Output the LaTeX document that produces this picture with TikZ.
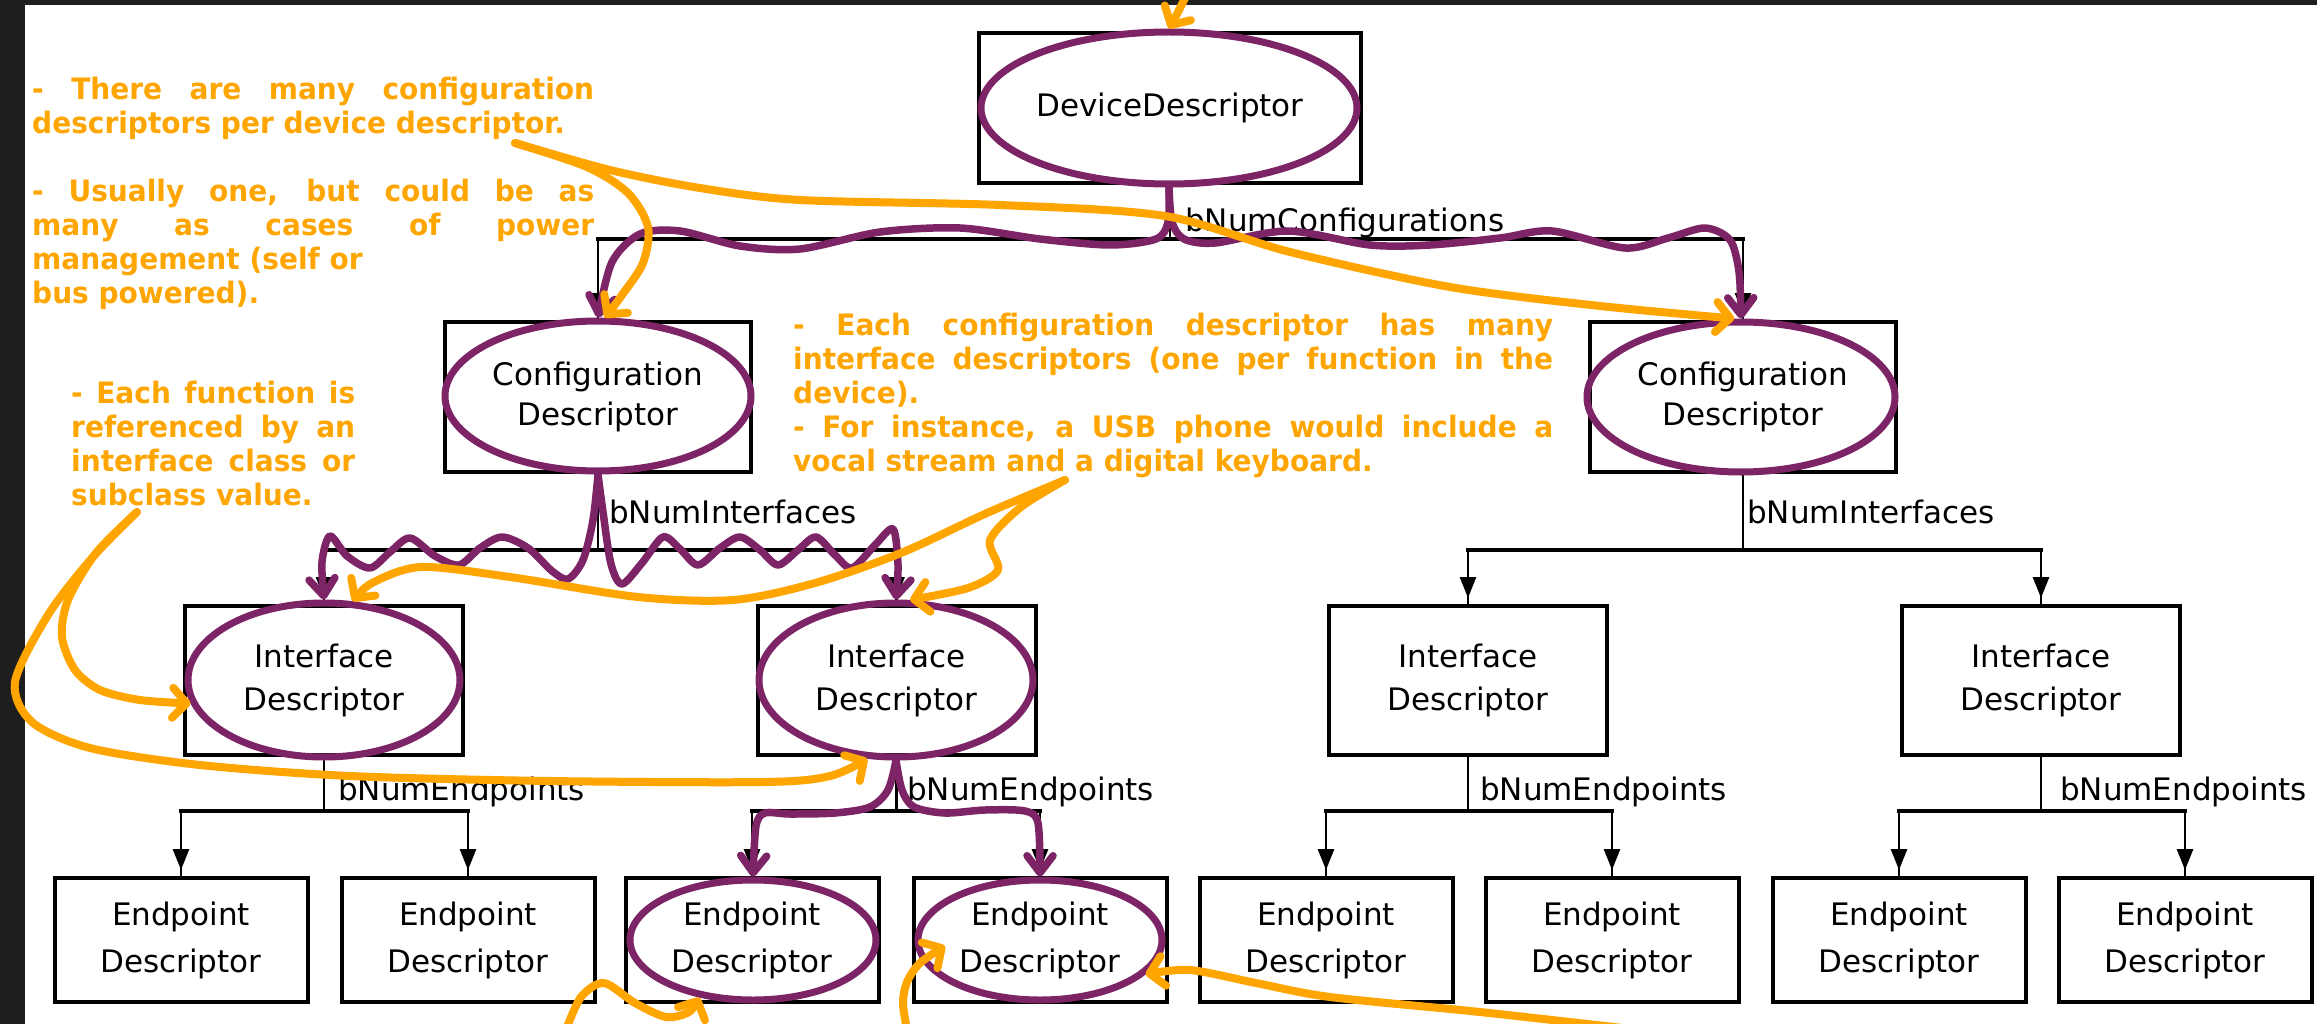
\documentclass[tikz,border=0pt]{standalone}
\usepackage{fontspec}
\usetikzlibrary{shapes.geometric,arrows.meta,decorations.markings}
\newfontfamily\notefont[FakeStretch=0.95]{DejaVu Sans}
\newfontfamily\boxfont{DejaVu Sans}
\definecolor{notecol}{RGB}{255,165,0}
\definecolor{markcol}{RGB}{124,36,102}
\definecolor{framebg}{RGB}{30,30,30}

\begin{document}
\begin{tikzpicture}[x=1pt,y=-1pt,
  box/.style={draw=black, line width=4pt, fill=white, rectangle, inner sep=0pt, align=center},
  devbox/.style={box, minimum width=382pt, minimum height=150pt, font=\boxfont\fontsize{31pt}{40pt}\selectfont},
  cfgbox/.style={box, minimum width=306pt, minimum height=150pt, font=\boxfont\fontsize{31pt}{40pt}\selectfont},
  ifbox/.style={box, minimum width=278pt, minimum height=149pt, font=\boxfont\fontsize{31pt}{43pt}\selectfont},
  epbox/.style={box, minimum width=253pt, minimum height=124pt, font=\boxfont\fontsize{31pt}{47pt}\selectfont},
  ring/.style={draw=markcol, line width=7pt, ellipse, inner sep=0pt},
  lbl/.style={font=\boxfont\fontsize{31pt}{37pt}\selectfont, inner sep=0pt, anchor=base west},
  bus/.style={line width=4.5pt, line cap=rect},
  stem/.style={line width=2.8pt},
  drop/.style={line width=2.8pt, postaction=decorate,
    decoration={markings, mark=at position -6pt with {\arrow{Triangle[length=21pt,width=16pt]}}}},
  note/.style={text=notecol, font=\notefont\bfseries\fontsize{29.5pt}{34pt}\selectfont, align=left, inner sep=0pt, anchor=north west},
  hand/.style={draw=notecol, line width=8pt, line cap=round, line join=round, -{Straight Barb[length=14pt,width=30pt,round]}},
  wave/.style={draw=markcol, line width=7.5pt, line cap=round, line join=round, -{Straight Barb[length=17pt,width=26pt,round]}},
]
\useasboundingbox (0,0) rectangle (2317,1024);
% slate frame and sheet
\fill[framebg] (0,0) rectangle (2317,1024);
\fill[white] (25,5) rectangle (2317,1024);

% ---------- descriptor boxes ----------
\node[devbox] (dev) at (1170,108) {DeviceDescriptor};
\node[cfgbox] (cfgL) at (598,397) {Configuration\\Descriptor};
\node[cfgbox] (cfgR) at (1743,397) {Configuration\\Descriptor};
\foreach \i/\x in {1/324,2/896.5,3/1468,4/2041}
  \node[ifbox] (if\i) at (\x,680.5) {Interface\\Descriptor};
\foreach \i/\x in {1/181,2/468,3/752,4/1040,5/1326,6/1612,7/1899,8/2185}
  \node[epbox] (ep\i) at (\x,940) {Endpoint\\Descriptor};

% ---------- tree connectors ----------
\coordinate (lvlC) at (0,239);
\coordinate (lvlI) at (0,550);
\coordinate (lvlE) at (0,811);
\draw[stem] (dev.south) -- (dev.south |- lvlC);
\draw[bus] (cfgL.north |- lvlC) -- (cfgR.north |- lvlC);
\draw[drop] (cfgL.north |- lvlC) -- (cfgL.north);
\draw[drop] (cfgR.north |- lvlC) -- (cfgR.north);

\draw[stem] (cfgL.south) -- (cfgL.south |- lvlI);
\draw[bus] (if1.north |- lvlI) -- (if2.north |- lvlI);
\draw[drop] (if1.north |- lvlI) -- (if1.north);
\draw[drop] (if2.north |- lvlI) -- (if2.north);
\draw[stem] (cfgR.south) -- (cfgR.south |- lvlI);
\draw[bus] (if3.north |- lvlI) -- (if4.north |- lvlI);
\draw[drop] (if3.north |- lvlI) -- (if3.north);
\draw[drop] (if4.north |- lvlI) -- (if4.north);

\foreach \p/\a/\b in {if1/ep1/ep2, if2/ep3/ep4, if3/ep5/ep6, if4/ep7/ep8}{
  \draw[stem] (\p.south) -- (\p.south |- lvlE);
  \draw[bus] (\a.north |- lvlE) -- (\b.north |- lvlE);
  \draw[drop] (\a.north |- lvlE) -- (\a.north);
  \draw[drop] (\b.north |- lvlE) -- (\b.north);
}

% ---------- connector labels ----------
\node[lbl] (lCfg) at (1185,232) {bNumConfigurations};
\node[lbl] (lIfL) at (609,523) {bNumInterfaces};
\node[lbl] (lIfR) at (1747,523) {bNumInterfaces};
\node[lbl] (lEp1) at (338,800) {bNumEndpoints};
\node[lbl] (lEp2) at (907,800) {bNumEndpoints};
\node[lbl] (lEp3) at (1480,800) {bNumEndpoints};
\node[lbl] (lEp4) at (2060,800) {bNumEndpoints};

% ---------- highlighted path (purple) ----------
\node[ring, minimum width=376pt, minimum height=152pt] (eDev) at (1169,108) {};
\node[ring, minimum width=306pt, minimum height=150pt] (eCfgL) at (598,396) {};
\node[ring, minimum width=308pt, minimum height=150pt] (eCfgR) at (1741,397) {};
\node[ring, minimum width=272pt, minimum height=154pt] (eIf1) at (324,680) {};
\node[ring, minimum width=274pt, minimum height=154pt] (eIf2) at (896,680) {};
\node[ring, minimum width=246pt, minimum height=120pt] (eEp3) at (753,940) {};
\node[ring, minimum width=244pt, minimum height=120pt] (eEp4) at (1040,940) {};

\draw[wave] plot[smooth] coordinates {(eDev.south) (1168,222) (1156,239) (1110,245) (1040,239) (960,228) (880,232) (800,249) (740,246) (680,231) (640,234) (612,262) (eCfgL.north)};
\draw[wave] plot[smooth] coordinates {(eDev.south) (1172,222) (1184,239) (1215,243) (1288,231) (1370,245) (1430,245) (1500,238) (1552,231) (1625,248) (1668,238) (1705,228) (1730,240) (1739,272) (eCfgR.north)};

\draw[wave] plot[smooth] coordinates {(eCfgL.south) (593,520) (583,560) (568,579) (552,571) (528,548) (502,537) (480,548) (459,565) (435,556) (410,538) (390,552) (370,568) (347,556) (330,536) (322,562) (eIf1.north)};
\draw[wave] plot[smooth] coordinates {(eCfgL.south) (603,512) (611,564) (622,584) (642,563) (663,537) (680,549) (698,565) (720,548) (740,537) (760,550) (778,565) (798,550) (816,537) (835,555) (852,568) (875,545) (893,529) (898,565) (eIf2.north)};

\draw[wave] plot[smooth] coordinates {(eIf2.south) (888,790) (870,807) (835,813) (790,814) (765,813) (756,826) (eEp3.north)};
\draw[wave] plot[smooth] coordinates {(eIf2.south) (902,790) (914,807) (945,813) (985,810) (1025,811) (1038,823) (eEp4.north)};

% ---------- notes ----------
\node[note] (n1) at (32,77) {%
  \makebox[562pt][s]{- There are many configuration}\\
  descriptors per device descriptor.\\[34pt]
  \makebox[562pt][s]{- Usually one, but could be as}\\
  \makebox[562pt][s]{many as cases of power}\\
  management (self or\\
  bus powered).};
\node[note] (n2) at (71,381) {%
  \makebox[284pt][s]{- Each function is}\\
  \makebox[284pt][s]{referenced by an}\\
  \makebox[284pt][s]{interface class or}\\
  subclass value.};
\node[note] (n3) at (793,313) {%
  \makebox[760pt][s]{- Each configuration descriptor has many}\\
  \makebox[760pt][s]{interface descriptors (one per function in the}\\
  device).\\
  \makebox[760pt][s]{- For instance, a USB phone would include a}\\
  vocal stream and a digital keyboard.};

% ---------- annotation arrows (orange) ----------
\coordinate (topIn) at (1186,-4);
\coordinate (n1src) at (515,143);
\coordinate (n2src) at (137,512);
\coordinate (n3src) at (1065,480);
\coordinate (botA) at (566,1030);
\coordinate (botB) at (907,1030);
\coordinate (tipB) at (945,946);
\coordinate (botC) at (1640,1030);

\draw[hand] plot[smooth] coordinates {(topIn) (1177,14) (eDev.north)};
\draw[hand] plot[smooth] coordinates {(n1src) (610,170) (700,188) (800,200) (1000,205) (1165,216) (1290,252) (1450,287) (1600,306) (eCfgR.95)};
\draw[hand] plot[smooth] coordinates {(n1src) (587,167) (628,193) (648,227) (643,263) (622,295) (eCfgL.85)};
\draw[hand] plot[smooth] coordinates {(n3src) (987,513) (901,553) (815,583) (733,600) (638,597) (510,577) (421,567) (372,583) (eIf1.70)};
\draw[hand] plot[smooth] coordinates {(n3src) (1021,507) (990,540) (998,570) (968,588) (eIf2.80)};
\draw[hand] plot[smooth] coordinates {(n2src) (96,553) (68,600) (62,637) (75,670) (100,690) (140,700) (eIf1.190)};
\draw[hand] plot[smooth] coordinates {(n2src) (92,558) (48,615) (15,682) (32,722) (90,748) (200,765) (350,776) (550,781) (765,782) (830,776) (eIf2.250)};
\draw[hand] plot[smooth] coordinates {(botA) (581,997) (604,983) (635,1003) (666,1017) (689,1012) (eEp3.227)};
\draw[hand] plot[smooth] coordinates {(botB) (903,1003) (907,982) (920,963) (tipB)};
\draw[hand] plot[smooth] coordinates {(botC) (1480,1012) (1330,997) (1256,983) (1190,970) (eEp4.342)};
\end{tikzpicture}
\end{document}
